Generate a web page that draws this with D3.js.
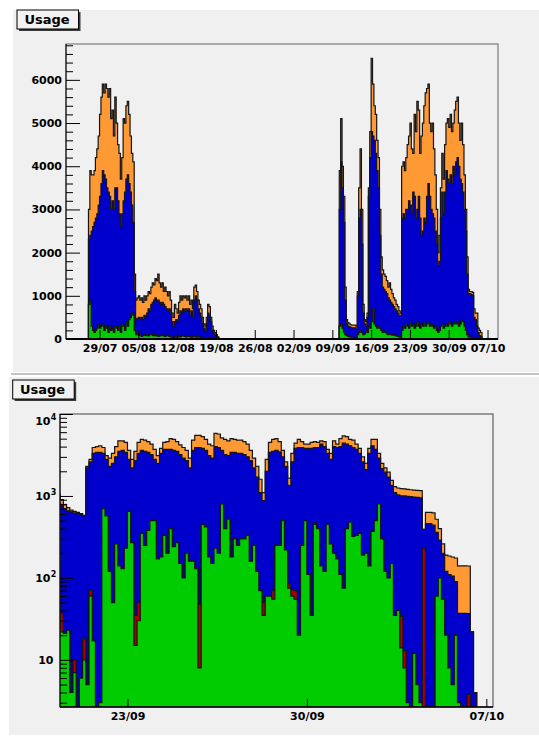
<!DOCTYPE html>
<html><head><meta charset="utf-8">
<script src="https://cdn.jsdelivr.net/npm/d3@7"></script>
<style>
body{margin:0;background:#fff}
text{font-family:"DejaVu Sans",sans-serif;font-weight:bold;fill:#000}
</style>
</head><body>
<svg id="c" width="539" height="738"></svg>
<script>
// ---------------- DATA ----------------
const seriesKeys = ["green","red","blue","orange"];
const seriesColors = {green:"#00cc00", red:"#aa0000", blue:"#0000cc", orange:"#ff9933"};

// Top panel (linear), 6-hour bins
const topYTicks = [0,1000,2000,3000,4000,5000,6000];
const topXTickLabels = ["29/07","05/08","12/08","19/08","26/08","02/09","09/09","16/09","23/09","30/09","07/10"];

const top1Start = "2008-07-27T00:00";
const top1Green = [800,900,300,200,150,200,250,350,250,300,350,200,300,250,150,300,200,250,150,300,250,200,300,150,350,300,200,400,300,450,500,600,550,200,100,120,80,100,60,80,100,80,90,70,100,120,80,100,70,90,60,70,80,100,70,60,80,90,60,50,40,30,50,40,50,60,50,70,80,60,50,70,60,50,40,50,60,50,40,50,40,30,40,30,20,30,40,30,20,20,10,10,5,5];
const top1Blue = [1500,1500,2200,2400,2550,2600,2650,2750,3050,3300,3550,3600,3400,3250,3250,3000,2800,2950,2850,3200,3250,3000,2600,2450,2550,2900,3200,3300,3500,3150,2900,2500,2150,900,350,360,420,380,440,370,450,440,510,630,550,680,770,800,880,810,840,780,720,750,730,690,620,560,640,550,360,270,350,410,350,490,600,530,620,590,650,580,640,500,610,450,840,950,860,650,560,470,310,220,180,320,560,520,380,180,140,90,75,35];
const top1Orange = [700,1500,1300,1200,1200,1400,1500,1600,1900,2000,2000,1900,2200,2300,2200,2500,2100,2100,1700,2100,1500,1300,1400,1100,1300,1900,1600,1700,1700,1600,1300,1200,1400,400,450,470,500,420,450,400,450,380,400,400,400,400,450,350,450,450,600,450,400,450,300,450,400,350,400,300,200,200,400,250,200,300,350,300,300,300,300,250,300,250,250,200,300,250,200,200,200,200,150,100,100,150,200,200,100,100,50,50,20,10];

const top2Start = "2008-09-10T00:00";
const top2Green = [0,300,350,250,150,100,80,60,50,40,40,30,30,30,100,150,200,150,100,120,200,150,300,250,400,700,350,300,250,300,250,200,150,180,150,120,100,120,100,90,100,80,70,60,50,40,200,300,250,350,300,250,400,300,350,250,300,400,300,250,350,300,400,300,350,400,300,350,300,250,300,200,150,200,300,350,250,300,350,300,400,350,300,350,400,350,400,300,350,450,400,300,200,100,50,40,40,30,20,20,10,10,5,5];
const top2Blue = [0,2700,3750,3250,2550,800,270,240,230,230,220,230,230,220,900,2650,2800,2050,500,230,100,350,3000,3950,4400,4000,4250,4000,3650,3200,2150,1300,1050,970,950,930,850,780,750,710,650,620,580,540,500,510,2600,2600,2550,2650,2700,2950,2700,2600,3050,3050,2500,2600,3000,2550,2050,2200,2400,2400,2950,3200,3000,2650,2600,2550,2200,2000,1550,1600,2500,3050,2650,3100,3550,3400,3200,3450,3300,3650,3400,3750,3800,3700,3350,3150,3000,2700,2300,1400,1000,1010,990,970,480,430,290,140,75,45];
const top2Orange = [0,900,1000,500,600,300,100,80,70,60,60,60,60,50,100,700,1400,800,200,100,100,100,200,600,1700,1200,800,900,700,700,600,400,400,350,350,300,250,400,300,250,200,200,150,150,100,50,1200,1200,1100,1200,1500,1500,1900,1500,900,1900,2000,2500,2000,1500,2300,2500,2600,3000,2500,2300,1700,1800,2100,1600,1300,800,300,600,700,900,800,1100,1100,1400,1300,1400,1200,1000,1500,1400,1400,1000,900,1400,1100,800,500,400,100,50,70,80,200,150,300,100,120,100];

// Bottom panel (log), 3-hour bins
const botXTickLabels = ["23/09","30/09","07/10"];
const botYTicks = [10,100,1000,10000];
const botStart = "2008-09-20T06:00";
const botGreen = [40,22,21,23,4,7,0,6,10,5, 60,17,0,3,700,570,120,50,260,140, 130,230,650,270,15,30,350,250,380,500, 500,170,180,330,200,400,240,270,150,100, 200,160,160,130,8,450,420,180,150,230, 200,800,400,520,180,300,250,300,300,330, 160,250,120,70,35,60,60,55,250,250, 500,220,75,60,55,20,250,500,110,35, 450,400,140,120,450,260,200,170,110,75, 400,480,320,330,350,190,200,140,370,500, 800,300,120,100,150,35,40,14,8,3, 0,12,5,3,0,0,0,0,60,100, 55,20,8,5,20,3,0,0,0,0,0];
const botRed = [8,15,0,0,0,3,0,0,8,0, 10,0,0,0,0,0,0,0,0,0, 0,0,0,0,20,20,0,0,0,0, 0,0,0,0,0,0,0,0,0,0, 0,0,0,0,40,0,0,0,0,0, 0,0,0,0,0,0,0,0,0,0, 0,0,0,0,15,0,0,15,0,0, 0,0,10,12,15,0,0,0,0,0, 20,0,0,0,0,0,0,0,0,0, 0,0,0,0,0,0,0,0,0,0, 0,0,0,0,0,0,0,20,5,0, 0,0,0,0,230,0,0,0,0,0, 0,0,0,0,0,0,0,0,3.8,0,0];
const botBlue = [772,723,679,637,636,610,610,594,557,2195, 2530,3283,3400,3397,2600,2230,2180,2450,2740,3360, 3470,3170,2150,1930,2665,3250,3250,3250,3020,2700, 2300,2330,3120,3370,3500,3300,3360,3230,3050,2800, 2500,2040,3440,3770,3852,3350,3180,2920,2750,3770, 3700,2800,2800,2580,3220,3100,3050,3000,2900,2670, 2540,1950,1580,1030,830,1940,3340,3430,3350,3200, 2500,2080,1265,2528,3730,3880,3650,3300,3690,3765, 3430,3500,4160,3880,2850,2540,3800,3730,3890,4325, 3900,3620,3580,3370,2950,2410,1900,3160,3730,3200, 2100,1850,1830,1600,1200,1065,990,966,987,987, 980,958,955,947,160,460,460,440,300,190, 145,100,102,100,70,34,37,37,33,22,4];
const botOrange = [230,140,80,60,30,30,20,10,5,100, 200,600,600,700,600,300,600,800,1000,1200, 1100,1100,800,600,800,1200,1300,1300,1200,1100, 900,600,500,800,900,1300,1300,1100,1000,1000, 900,700,1200,1600,1600,1500,1300,1200,1200,1800, 1800,1500,1700,1600,1600,1500,1500,1500,1400,1300, 900,700,600,500,220,800,1100,1400,1400,1150, 600,300,300,700,600,1000,700,500,500,700, 700,600,400,600,400,500,700,400,1000,1000, 1000,800,900,600,500,400,400,500,800,1200, 400,350,250,250,200,200,220,230,220,210, 210,210,210,210,0,170,170,180,160,110, 60,70,75,75,85,103,103,103,103,0,0];

// ---------------- HELPERS ----------------
const svg = d3.select("#c");
const parse = d3.utcParse("%Y-%m-%dT%H:%M");
const parseDay = s => d3.utcParse("%d/%m/%Y")(s + "/2008");
const HOUR = 3600e3;

function makeBins(start, stepH, series) {
  const keys = Object.keys(series);
  const n = series[keys[0]].length;
  const t0 = +parse(start);
  return d3.range(n).map(i => {
    const b = {t0: new Date(t0 + i*stepH*HOUR), t1: new Date(t0 + (i+1)*stepH*HOUR)};
    seriesKeys.forEach(k => b[k] = series[k] ? series[k][i] : 0);
    return b;
  });
}

function drawStack(g, x, y, bins, floorV) {
  const st = d3.stack().keys(seriesKeys)(bins);
  const base = y.range()[0];
  for (let li = seriesKeys.length - 1; li >= 0; li--) {
    const layer = st[li];
    const pts = layer.map((d, i) => ({t: bins[i].t0, v: d[1]}));
    pts.push({t: bins[bins.length-1].t1, v: layer[layer.length-1][1]});
    const area = d3.area().curve(d3.curveStepAfter)
      .x(d => x(d.t)).y0(base).y1(d => y(Math.max(d.v, floorV)));
    g.append("path").attr("d", area(pts))
      .attr("fill", seriesColors[seriesKeys[li]])
      .attr("stroke", "#151515").attr("stroke-width", 1.2).attr("stroke-linejoin","miter");
  }
}

function titleBox(x, y, w, h, tx, ty) {
  svg.append("rect").attr("x", x+2).attr("y", y+2).attr("width", w).attr("height", h).attr("fill", "#3a3a3a");
  svg.append("rect").attr("x", x).attr("y", y).attr("width", w).attr("height", h)
    .attr("fill", "#f2f2f2").attr("stroke", "#000").attr("stroke-width", 1);
  svg.append("text").attr("x", tx).attr("y", ty).attr("font-size", 13).text("Usage");
}

// ---------------- BACKGROUND ----------------
svg.append("rect").attr("x", 13).attr("y", 10).attr("width", 526).attr("height", 362).attr("fill", "#f0f0f0");
svg.append("line").attr("x1", 11).attr("x2", 539).attr("y1", 374).attr("y2", 374).attr("stroke", "#b0b0b0").attr("stroke-width", 1.5);
svg.append("rect").attr("x", 9).attr("y", 377).attr("width", 530).attr("height", 358).attr("fill", "#f0f0f0");

// ---------------- TOP PANEL ----------------
{
  const L = 66, R = 498, T = 44, B = 339;
  const x = d3.scaleUtc().domain([parse("2008-07-22T22:40"), parse("2008-10-08T21:20")]).range([L, R]);
  const y = d3.scaleLinear().domain([0, 6830]).range([B, T]);
  svg.append("defs").append("clipPath").attr("id", "clipTop")
    .append("rect").attr("x", L).attr("y", T).attr("width", R-L).attr("height", B-T);
  const g = svg.append("g").attr("clip-path", "url(#clipTop)");
  drawStack(g, x, y, makeBins(top1Start, 6, {green: top1Green, blue: top1Blue, orange: top1Orange}), 0);
  drawStack(g, x, y, makeBins(top2Start, 6, {green: top2Green, blue: top2Blue, orange: top2Orange}), 0);

  svg.append("rect").attr("x", L).attr("y", T).attr("width", R-L).attr("height", B-T)
    .attr("fill", "none").attr("stroke", "#666").attr("stroke-width", 1);

  const ya = svg.append("g").attr("transform", `translate(${L},0)`)
    .call(d3.axisLeft(y).tickValues(topYTicks).tickSize(-14).tickPadding(4).tickFormat(d3.format("d")));
  ya.select(".domain").remove();
  ya.selectAll("text").attr("font-size", 11).attr("font-family", "DejaVu Sans").attr("font-weight", "bold");
  ya.selectAll("line").attr("stroke", "#000");
  const minor = y.ticks(40).filter(v => v % 1000 !== 0);
  const ym = svg.append("g").attr("transform", `translate(${L},0)`)
    .call(d3.axisLeft(y).tickValues(minor).tickSize(-7).tickFormat(""));
  ym.select(".domain").remove();
  ym.selectAll("line").attr("stroke", "#000");

  const xa = svg.append("g").attr("transform", `translate(0,${B})`)
    .call(d3.axisBottom(x).tickValues(topXTickLabels.map(parseDay)).tickSize(-9).tickPadding(5)
      .tickFormat(d3.utcFormat("%d/%m")));
  xa.select(".domain").remove();
  xa.selectAll("text").attr("font-size", 11).attr("font-family", "DejaVu Sans").attr("font-weight", "bold");
  xa.selectAll("line").attr("stroke", "#000");

  svg.append("line").attr("x1", L).attr("x2", R).attr("y1", B).attr("y2", B).attr("stroke", "#000").attr("stroke-width", 2);
  svg.append("line").attr("x1", L).attr("x2", L).attr("y1", T).attr("y2", B).attr("stroke", "#000").attr("stroke-width", 1);

  titleBox(17, 10, 61.5, 19, 24.5, 24);
}

// ---------------- BOTTOM PANEL ----------------
{
  const L = 60, R = 493, T = 414, B = 707;
  const x = d3.scaleUtc().domain([parse("2008-09-20T08:50"), parse("2008-10-07T06:15")]).range([L, R]);
  const y = d3.scaleLog().domain([2.66, 10000]).range([B, T]).clamp(true);
  svg.append("defs").append("clipPath").attr("id", "clipBot")
    .append("rect").attr("x", L).attr("y", T).attr("width", R-L).attr("height", B-T);
  const g = svg.append("g").attr("clip-path", "url(#clipBot)");
  drawStack(g, x, y, makeBins(botStart, 3, {green: botGreen, red: botRed, blue: botBlue, orange: botOrange}), 2.66);

  svg.append("rect").attr("x", L).attr("y", T).attr("width", R-L).attr("height", B-T)
    .attr("fill", "none").attr("stroke", "#444").attr("stroke-width", 1);

  const ya = svg.append("g").attr("transform", `translate(${L},0)`)
    .call(d3.axisLeft(y).tickValues(botYTicks).tickSize(-13).tickFormat(""));
  ya.select(".domain").remove();
  ya.selectAll("line").attr("stroke", "#000");
  const minor = y.ticks().filter(v => Math.abs(Math.log10(v) - Math.round(Math.log10(v))) > 1e-6);
  const ym = svg.append("g").attr("transform", `translate(${L},0)`)
    .call(d3.axisLeft(y).tickValues(minor).tickSize(-7).tickFormat(""));
  ym.select(".domain").remove();
  ym.selectAll("line").attr("stroke", "#000");

  botYTicks.forEach(v => {
    const e = Math.round(Math.log10(v));
    const by = Math.max(y(v) + 4.5, T + 11);
    if (e === 1) {
      svg.append("text").attr("x", 53.5).attr("y", by).attr("text-anchor", "end").attr("font-size", 11).text("10");
    } else {
      svg.append("text").attr("x", 50.5).attr("y", by).attr("text-anchor", "end").attr("font-size", 11).text("10");
      svg.append("text").attr("x", 50.8).attr("y", by - 5.5).attr("font-size", 8).text(String(e));
    }
  });

  const xa = svg.append("g").attr("transform", `translate(0,${B})`)
    .call(d3.axisBottom(x).tickValues(botXTickLabels.map(parseDay)).tickSize(-8).tickPadding(5)
      .tickFormat(d3.utcFormat("%d/%m")));
  xa.select(".domain").remove();
  xa.selectAll("text").attr("font-size", 11).attr("font-family", "DejaVu Sans").attr("font-weight", "bold");
  xa.selectAll("line").attr("stroke", "#000");

  svg.append("line").attr("x1", L).attr("x2", R).attr("y1", B).attr("y2", B).attr("stroke", "#000").attr("stroke-width", 1.5);
  svg.append("line").attr("x1", L).attr("x2", L).attr("y1", T).attr("y2", B).attr("stroke", "#000").attr("stroke-width", 1);

  titleBox(12.7, 380, 61.5, 19, 20, 394);
}
</script>
</body></html>
